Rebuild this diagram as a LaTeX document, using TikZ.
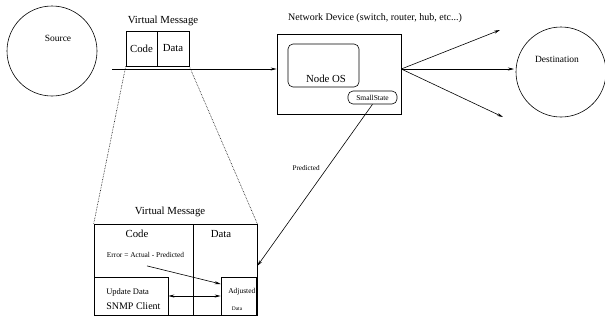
\documentclass[tikz,border=0pt]{standalone}
\usepackage{fontspec}
\setmainfont{Liberation Serif}
\usetikzlibrary{arrows.meta,calc}
\newcommand{\fs}[1]{\fontsize{#1}{#1}\selectfont}
\begin{document}
\begin{tikzpicture}[x=1pt,y=-1pt,line width=0.6pt,
  box/.style={draw,inner sep=0pt,minimum width=#1},
  tip/.style={-{Stealth[length=6pt,width=3pt]}},
  dtip/.style={{Stealth[length=6pt,width=3pt]}-{Stealth[length=6pt,width=3pt]}},
  txt/.style={inner sep=0pt,font=\fs{#1}}]
\useasboundingbox (0,0) rectangle (605,322);
% source & destination
\node[circle,draw,minimum size=90pt,inner sep=0pt] (src) at (52,51) {};
\node[txt=9.5] (srct) at (58,38) {Source};
\node[circle,draw,minimum size=90pt,inner sep=0pt] (dst) at (561,72) {};
\node[txt=9.5] (dstt) at (557,59) {Destination};
% top virtual message
\node[txt=10.8] (vm1) at (163,21) {Virtual Message};
\node[box=31pt,minimum height=35pt] (code) at (141.5,48.5) {\fs{10.8}Code};
\node[box=32pt,minimum height=35pt] (data) at (173,48.5) {\fs{10.8}Data};
% network device
\node[txt=10] (ndt) at (375,18) {Network Device (switch, router, hub, etc...)};
\node[box=124pt,minimum height=80pt] (net) at (339,74) {};
\node[box=71pt,minimum height=43pt,rounded corners=5pt] (nos) at (323.5,65.5) {};
\node[txt=10.8] (nost) at (326,79) {Node OS};
\node[box=49pt,minimum height=13pt,rounded corners=5pt] (ss) at (372.5,97.5) {\fs{7.5}SmallState};
% main flow
\coordinate (start) at (112,69);
\draw[tip] (start) -- (start -| net.west);
\coordinate (hub) at (start -| net.east);
\coordinate (o1) at (500,30);
\coordinate (o2) at (514,69);
\coordinate (o3) at (503,117);
\draw[tip] (hub) -- (o1);
\draw[tip] (hub) -- (o2);
\draw[tip] (hub) -- (o3);
% lower virtual message
\node[txt=10.8] (vm2) at (170,212) {Virtual Message};
\node[box=99pt,minimum height=91pt] (code2) at (143.5,269.5) {};
\node[box=64pt,minimum height=91pt] (data2) at (225,269.5) {};
\node[txt=10.8] (code2t) at (137,234) {Code};
\node[txt=10.8] (data2t) at (221,234) {Data};
\node[txt=7.4] (err) at (145.5,255) {Error = Actual - Predicted};
\node[box=74pt,minimum height=38pt,fill=white] (upd) at (131,296) {};
\node[txt=8.5,anchor=west] (updt) at (106,292) {Update Data};
\node[txt=10,anchor=west] (snmp) at (106,306) {SNMP Client};
\node[box=35pt,minimum height=38pt,fill=white] (adj) at (238.5,296) {};
\begin{scope}
\clip (adj.south west) rectangle (adj.north east);
\node[txt=7.5,anchor=west] (adjt) at (228,292) {Adjusted};
\end{scope}
\node[txt=5.5] (adjd) at (237,309) {Data};
% dotted zoom lines
\draw[densely dotted] (code.south west) -- (code2.north west);
\draw[densely dotted] (data.south east) -- (data2.north east);
% predicted
\draw[tip] (ss.south) -- ([yshift=3.5pt]data2.east);
\node[txt=7.2,anchor=east] (pred) at (320,168) {Predicted};
% inner arrows
\draw[tip] ([xshift=1.5pt,yshift=-8pt]err.south) -- ([yshift=12pt]adj.west);
\draw[dtip] (upd.east) -- (adj.west);
\end{tikzpicture}
\end{document}
